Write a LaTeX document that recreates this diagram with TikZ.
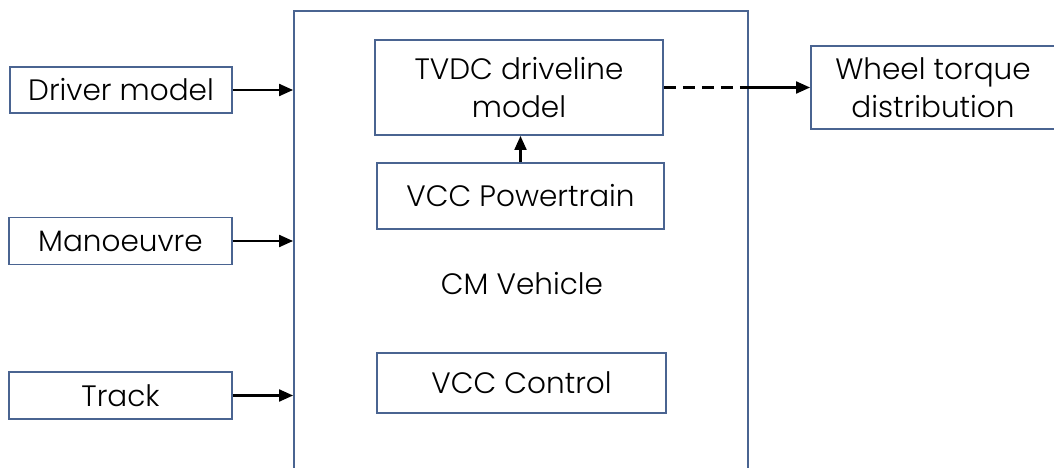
\documentclass[tikz,border=0pt]{standalone}
\usepackage{fontspec}
\setmainfont{Poppins}[UprightFont=* Light]
\usetikzlibrary{arrows.meta}
\definecolor{boxblue}{HTML}{4A6491}
\begin{document}
\begin{tikzpicture}[x=1pt,y=-1pt,
  lbl/.style={font=\fontsize{29.5}{38}\selectfont, align=center, text=black},
  box/.style={lbl, draw=boxblue, line width=1.9pt, rectangle, inner sep=0pt},
  flow/.style={line width=2.1pt, -{Triangle[length=14pt,width=12pt]}},
]
\useasboundingbox (0,0) rectangle (1054,468);
\clip (0,0) rectangle (1054,468);

% outer vehicle block (runs off the bottom edge)
\node[draw=boxblue, line width=1.9pt, minimum width=454pt, minimum height=480pt, inner sep=0pt] (cm) at (521,251) {};
\node[lbl] (cmlabel) at (522,284) {CM Vehicle};

% inputs
\node[box, minimum width=222pt, minimum height=46pt] (driver) at (121,90) {Driver model};
\node[box, minimum width=223pt, minimum height=47pt] (man) at (120.5,241) {Manoeuvre};
\node[box, minimum width=223pt, minimum height=47pt] (track) at (120.5,395.5) {Track};

% inner blocks
\node[box, minimum width=288pt, minimum height=95pt] (tvdc) at (519,87.5) {TVDC driveline\\model};
\node[box, minimum width=287pt, minimum height=66pt] (power) at (520.5,196) {VCC Powertrain};
\node[box, minimum width=289pt, minimum height=60pt] (control) at (521.5,383) {VCC Control};

% output
\node[box, minimum width=244pt, minimum height=83pt] (wheel) at (933,87.5) {Wheel torque\\distribution};

% connectors
\draw[flow] (driver.east) -- (driver.east -| cm.west);
\draw[flow] (man.east) -- (man.east -| cm.west);
\draw[flow] (track.east) -- (track.east -| cm.west);
\draw[flow] (power.north) -- (power.north |- tvdc.south);
\coordinate (exit) at (tvdc.east -| cm.east);
\draw[line width=2.1pt, dash pattern=on 12pt off 7pt] (tvdc.east) -- (exit);
\draw[flow] (exit) -- (wheel.west);
\end{tikzpicture}
\end{document}
